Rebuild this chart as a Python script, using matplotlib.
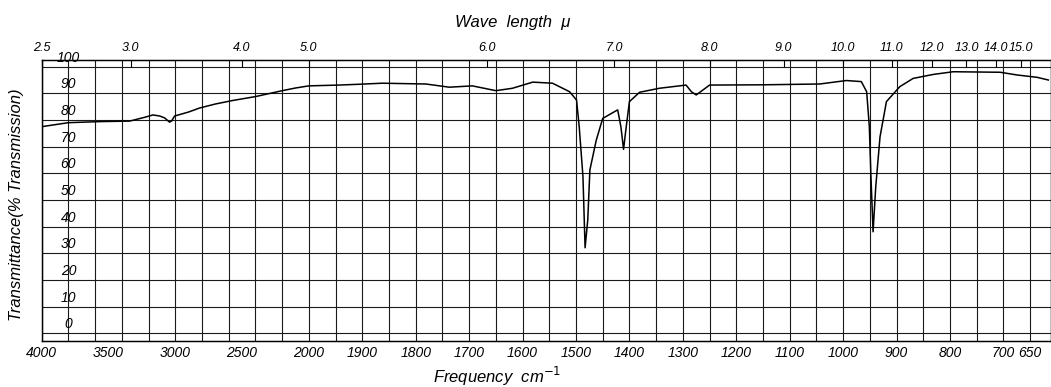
import numpy as np
import matplotlib
matplotlib.use("Agg")
import matplotlib.pyplot as plt

# spectrum (wavenumber cm-1, % transmittance)
wavenumber = [4000, 3800, 3565, 3341, 3230, 3167, 3117, 3080, 3043, 3028, 3005,
              2900, 2818, 2700, 2572, 2398, 2199, 2100, 2000, 1944, 1906, 1863,
              1781, 1737, 1694, 1650, 1619, 1581, 1544, 1512, 1499, 1494, 1487,
              1483, 1478, 1474, 1462, 1450, 1422, 1416, 1411, 1406, 1400, 1381,
              1344, 1294, 1284, 1275, 1250, 1150, 1044, 994, 966, 956, 951, 948,
              944, 939, 931, 919, 894, 869, 831, 794, 706, 675, 637, 616]
transmittance = [77.5, 79.0, 79.4, 79.6, 81.0, 81.9, 81.5, 80.8, 79.2, 79.6, 81.5,
                 83.0, 84.5, 86.0, 87.3, 88.8, 91.0, 92.0, 92.8, 93.1, 93.4, 93.8,
                 93.5, 92.3, 92.8, 91.0, 91.9, 94.2, 93.8, 90.6, 87.5, 77.5, 58.8,
                 32.1, 42.5, 61.3, 72.5, 80.6, 83.8, 77.5, 69.0, 77.5, 86.9, 90.4,
                 91.9, 93.1, 90.6, 89.4, 93.1, 93.2, 93.5, 94.8, 94.4, 90.6, 77.5, 58.8,
                 38.1, 55.0, 73.7, 86.9, 92.5, 95.6, 97.1, 98.1, 97.9, 96.9, 96.0, 95.0]

freq_ticks = [4000, 3500, 3000, 2500, 2000, 1900, 1800, 1700, 1600, 1500, 1400,
              1300, 1200, 1100, 1000, 900, 800, 700, 650]
wave_ticks = [2.5, 3.0, 4.0, 5.0, 6.0, 7.0, 8.0, 9.0, 10.0, 11.0, 12.0, 13.0, 14.0, 15.0]
wave_labels = ["2.5", "3.0", "4.0", "5.0", "6.0", "7.0", "8.0", "9.0", "10.0",
               "11.0", "12.0", "13.0", "14.0", "15.0"]
pct_ticks = [0, 10, 20, 30, 40, 50, 60, 70, 80, 90, 100]


# chart paper: scale below 2000 cm-1 is four times wider
def fwd(w):
    w = np.asarray(w, dtype=float)
    return np.where(w >= 2000, w, 2000 - (2000 - w) * 4)


def inv(u):
    u = np.asarray(u, dtype=float)
    return np.where(u >= 2000, u, 2000 - (2000 - u) / 4)


plt.rcParams['font.family'] = ['Liberation Sans', 'DejaVu Sans']
fig = plt.figure(figsize=(10.51, 3.87), dpi=100)
ax = fig.add_axes([41.7 / 1051, 1 - 340.7 / 387, 1 - 41.7 / 1051, (340.7 - 60) / 387])
ax.set_xscale('function', functions=(fwd, inv))
ax.set_xlim(4000, 611)
ax.set_ylim(-2.75, 102.5)

grid_x = list(range(4000, 2000, -200)) + list(range(2000, 600, -50))
for g in grid_x:
    ax.axvline(g, color='#1a1a1a', lw=0.8, zorder=1)
for p in pct_ticks:
    ax.axhline(p, color='#1a1a1a', lw=0.8, zorder=1)
    ax.text(3800, p + 0.8, str(p), ha='center', va='bottom', fontsize=10,
            style='italic', zorder=3)

ax.plot(wavenumber, transmittance, color='black', lw=1.1, zorder=4)

ax.set_xticks(freq_ticks)
ax.set_xticklabels([str(t) for t in freq_ticks], fontsize=10, style='italic')
ax.set_xticks([], minor=True)
ax.set_yticks([])
ax.tick_params(axis='x', length=0, pad=4)
for s in ax.spines.values():
    s.set_linewidth(1.0)

top = ax.twiny()
top.set_xscale('function', functions=(fwd, inv))
top.set_xlim(ax.get_xlim())
top.set_xticks([1e4 / m for m in wave_ticks])
top.set_xticklabels(wave_labels, fontsize=9, style='italic')
top.set_xticks([], minor=True)
top.tick_params(axis='x', direction='in', length=5, pad=4)

fig.text(513 / 1051, 1 - 22 / 387, "Wave  length  \u03bc", ha='center', va='center',
         fontsize=12, style='italic')
fig.text(497 / 1051, 1 - 376 / 387, "Frequency  cm$^{-1}$", ha='center', va='center',
         fontsize=12, style='italic')
fig.text(17 / 1051, 1 - 205 / 387, "Transmittance(% Transmission)", ha='center',
         va='center', rotation=90, fontsize=12, style='italic')

fig.savefig("out.png", dpi=100)
